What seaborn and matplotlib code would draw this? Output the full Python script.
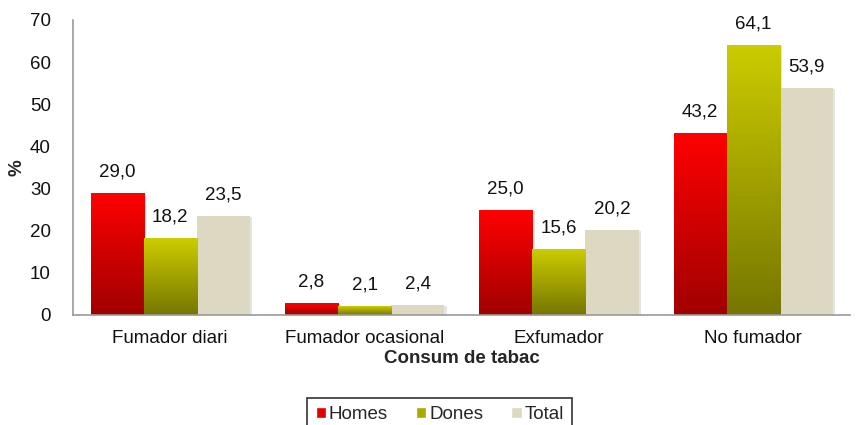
import numpy as np
import pandas as pd
import matplotlib
matplotlib.use("Agg")
import matplotlib.pyplot as plt
import seaborn as sns
from matplotlib.colors import LinearSegmentedColormap
from matplotlib.patches import Patch

categories = ["Fumador diari", "Fumador ocasional", "Exfumador", "No fumador"]
homes = [29.0, 2.8, 25.0, 43.2]
dones = [18.2, 2.1, 15.6, 64.1]
total = [23.5, 2.4, 20.2, 53.9]
series = ["Homes", "Dones", "Total"]
yticks = [0, 10, 20, 30, 40, 50, 60, 70]

df = pd.DataFrame({
    "cat": categories * 3,
    "serie": [s for s in series for _ in categories],
    "val": homes + dones + total,
})

sns.set_theme(style="white")
plt.rcParams["font.family"] = ["Liberation Sans", "DejaVu Sans"]
FS = 13.5

fig = plt.figure(figsize=(8.59, 4.25), dpi=100)
ax = fig.add_axes([0.085, 0.259, 0.905, 0.694])

palette = {"Homes": "#E00000", "Dones": "#AAAA00", "Total": "#DDD8C2"}
sns.barplot(data=df, x="cat", y="val", hue="serie", palette=palette,
            order=categories, hue_order=series, width=0.82, ax=ax,
            legend=False, saturation=1, linewidth=0)

grads = {
    "Homes": LinearSegmentedColormap.from_list("r", ["#A00000", "#FF0000"]),
    "Dones": LinearSegmentedColormap.from_list("g", ["#767600", "#CCCC00"]),
}
grad_img = np.linspace(0, 1, 256).reshape(-1, 1)

for cont, s in zip(ax.containers, series):
    for bar, v in zip(cont, df[df.serie == s].val):
        x0, w, h = bar.get_x(), bar.get_width(), bar.get_height()
        ax.add_patch(plt.Rectangle((x0 + 0.012, 0), w, h - 0.3, color="#000000",
                                   alpha=0.10, zorder=1.5, linewidth=0))
        bar.set_zorder(2)
        if s in grads:
            im = ax.imshow(grad_img, cmap=grads[s], origin="lower",
                           extent=[x0, x0 + w, 0, h], aspect="auto", zorder=2.5)
            im.set_clip_path(bar)
        ax.annotate(f"{v:.1f}".replace(".", ","), (x0 + w / 2, h),
                    xytext=(0, 15), textcoords="offset points",
                    ha="center", va="center", fontsize=FS, color="#111111")

ax.set_xlim(-0.5, 3.5)
ax.set_ylim(0, 70)
ax.set_yticks(yticks)
ax.tick_params(axis="both", labelsize=FS, colors="#111111", length=0)
ax.tick_params(axis="y", pad=16)
ax.tick_params(axis="x", pad=11)
for sp in ["top", "right"]:
    ax.spines[sp].set_visible(False)
for sp in ["left", "bottom"]:
    ax.spines[sp].set_color("#999999")
    ax.spines[sp].set_linewidth(1.2)
ax.set_xlabel("Consum de tabac", fontsize=FS, fontweight="bold", labelpad=2)
ax.set_ylabel("%", fontsize=FS, fontweight="bold", labelpad=3)

handles = [Patch(facecolor="#E00000"), Patch(facecolor="#AAAA00"), Patch(facecolor="#DDD8C2")]
leg = fig.legend(handles, series, loc="lower center", bbox_to_anchor=(0.512, -0.015),
                 ncol=3, frameon=True, fontsize=FS, handlelength=0.55,
                 handleheight=0.55, handletextpad=0.15, columnspacing=1.5,
                 borderpad=0.45, borderaxespad=0, fancybox=False)
leg.get_frame().set_edgecolor("#000000")
leg.get_frame().set_linewidth(1.2)

fig.savefig("out.png", dpi=100)
